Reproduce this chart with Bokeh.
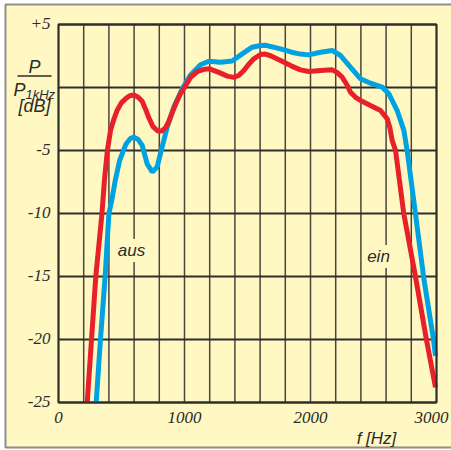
from bokeh.plotting import figure
from bokeh.models import Label, ColumnDataSource
from bokeh.embed import file_html
from bokeh.resources import INLINE

# ---- data ----
red_f = [228, 262, 296, 345, 365, 388, 413, 440, 466, 500, 532, 565, 598, 630, 664, 690,
         717, 750, 788, 820, 849, 875, 902, 935, 968, 1000, 1048, 1100, 1160, 1200, 1272,
         1340, 1391, 1430, 1471, 1510, 1550, 1603, 1640, 1683, 1762, 1850, 1920, 1987, 2079,
         2172, 2210, 2251, 2290, 2317, 2360, 2397, 2476, 2556, 2609, 2630, 2648, 2675, 2740,
         2833, 2920, 2992]
red_db = [-25, -20, -15, -10, -7.3, -5, -3.4, -2.5, -1.8, -1.2, -0.9, -0.65, -0.6, -0.75, -1.1, -1.7,
          -2.4, -3.1, -3.45, -3.45, -3.2, -2.7, -2.0, -1.2, -0.5, 0.0, 0.8, 1.25, 1.45, 1.48, 1.2,
          0.9, 0.8, 0.95, 1.35, 1.85, 2.28, 2.62, 2.65, 2.52, 2.14, 1.7, 1.4, 1.27, 1.35,
          1.4, 1.2, 0.82, 0.2, -0.37, -0.8, -1.03, -1.43, -1.83, -2.49, -3.2, -4.2, -5, -10,
          -15, -20, -23.8]

blue_f = [299, 333, 370, 400, 422, 450, 485, 535, 570, 598, 630, 664, 704, 744, 783, 823,
          863, 915, 982, 1048, 1127, 1193, 1286, 1378, 1458, 1537, 1603, 1650, 1683, 1762,
          1850, 1920, 1987, 2079, 2172, 2238, 2317, 2397, 2476, 2569, 2622, 2688, 2741, 2767,
          2833, 2897, 2976, 2992]
blue_db = [-25, -20, -15, -10, -9.0, -7.4, -5.8, -4.5, -4.05, -3.94, -4.1, -4.6, -6.06, -6.7, -6.3, -4.7,
           -3.15, -1.56, -0.1, 1.0, 1.8, 2.09, 2.0, 2.1, 2.67, 3.2, 3.33, 3.35, 3.25, 3.07,
           2.8, 2.65, 2.59, 2.8, 2.94, 2.54, 1.61, 0.69, 0.34, 0.03, -0.5, -1.83, -3.4, -5,
           -10, -15, -20, -21.3]

x_ticks = [0, 1000, 2000, 3000]
x_labels = ["0", "1000", "2000", "3000"]
y_ticks = [5, -5, -10, -15, -20, -25]
y_labels = ["+5", "-5", "-10", "-15", "-20", "-25"]
x_grid = list(range(0, 3001, 200))
y_grid = [5, 0, -5, -10, -15, -20, -25]
X0, X1, Y0, Y1 = 0, 3000, -25, 5

BG = "#FFF8C2"
INK = "#2b2b2b"
FONT = "Liberation Sans"

# layout: plot area in page pixels
W, H = 451, 450
FL, FT, FR, FB = 58, 24, 436, 402
SX = (FR - FL) / (X1 - X0)
SY = (FB - FT) / (Y1 - Y0)
LIFT = 6  # empirical baseline correction (px)

def dx(px):
    return X0 + (px - FL) / SX

def dy(py):
    return Y1 - (py - FT) / SY

p = figure(width=W, height=H, x_range=(dx(0), dx(W)), y_range=(dy(H), dy(0)),
           output_backend="svg", toolbar_location=None,
           min_border=0, min_border_left=0, min_border_right=0,
           min_border_top=0, min_border_bottom=0)
p.axis.visible = False
p.grid.visible = False
p.outline_line_color = None
p.background_fill_color = "white"
p.border_fill_color = "white"

# paper with grey edge
p.quad(left=[dx(5)], right=[dx(480)], top=[dy(4)], bottom=[dy(447)],
       fill_color=BG, line_color="#8e8e8e", line_width=2)

# grid
p.segment(x0=x_grid, y0=[Y0] * len(x_grid), x1=x_grid, y1=[Y1] * len(x_grid),
          line_color="#4a463e", line_width=1.5)
p.segment(x0=[X0] * len(y_grid), y0=y_grid, x1=[X1] * len(y_grid), y1=y_grid,
          line_color="#2e2e2e", line_width=1.8)

# curves
p.line(blue_f, blue_db, line_color="#00A2E1", line_width=5)
p.line(red_f, red_db, line_color="#E8202A", line_width=5)

# frame
p.quad(left=[X0], right=[X1], top=[Y1], bottom=[Y0], fill_color=None,
       line_color="#2e2e2e", line_width=2)

# tick labels
xsrc = ColumnDataSource(dict(x=x_ticks, y=[Y0] * len(x_ticks), t=x_labels,
                             xo=[0, 0, 0, -5]))
p.text(x="x", y="y", text="t", source=xsrc, text_font="Liberation Sans",
       text_font_style="italic", text_font_size="17px", text_color=INK,
       text_align="center", text_baseline="alphabetic", x_offset="xo", y_offset=15)
p.text(x=[X0] * len(y_ticks), y=y_ticks, text=y_labels, text_font="Liberation Sans",
       text_font_style="italic", text_font_size="17px", text_color=INK,
       text_align="right", text_baseline="alphabetic", x_offset=-8, y_offset=-1)

def lab(px, py, t, size="17px", align="center", bg=None):
    l = Label(x=dx(px), y=dy(py - LIFT), text=t, text_font=FONT, text_font_style="italic",
              text_font_size=size, text_color=INK, text_align=align,
              text_baseline="alphabetic")
    if bg:
        l.background_fill_color = bg
        l.padding = 2
    p.add_layout(l)

lab(131, 256, "aus", bg=BG)
lab(378, 262, "ein", bg=BG)
lab(34, 72, "P", size="18px")
p.segment(x0=[dx(17)], y0=[dy(75.5)], x1=[dx(51)], y1=[dy(75.5)], line_color=INK, line_width=1.5)
lab(13, 95, "P", size="18px", align="left")
lab(25, 100, "1kHz", size="13px", align="left")
lab(34, 111, "[dB]", size="18px")
lab(376, 444, "f [Hz]")

open("out.html", "w").write(file_html(p, INLINE))
